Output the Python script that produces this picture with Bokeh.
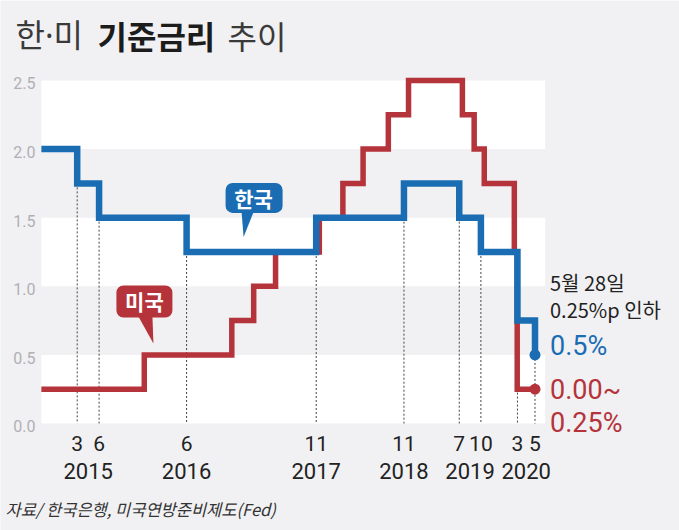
import pandas as pd
from bokeh.plotting import figure
from bokeh.models import Range1d
from bokeh.core.properties import value
from bokeh.embed import file_html
from bokeh.resources import INLINE

# ---------------- data ----------------
start_date = "2014-10-14"          # first drawn date (left edge of bands)
last_date = "2020-05-28"           # latest observation
band_end_date = "2020-07-09"       # right edge of the shaded bands

kr_start_rate = 2.0
kr_dates = ["2015-03-12", "2015-06-11", "2016-06-09", "2017-11-30", "2018-11-30",
            "2019-07-18", "2019-10-16", "2020-03-16", "2020-05-28"]
kr_rates = [1.75, 1.5, 1.25, 1.5, 1.75, 1.5, 1.25, 0.75, 0.5]

us_start_rate = 0.25
us_dates = ["2015-12-16", "2016-12-14", "2017-03-15", "2017-06-14", "2017-12-13",
            "2018-03-21", "2018-06-13", "2018-09-26", "2018-12-19", "2019-07-31",
            "2019-09-18", "2019-10-30", "2020-03-03", "2020-03-15"]
us_rates = [0.5, 0.75, 1.0, 1.25, 1.5, 1.75, 2.0, 2.25, 2.5, 2.25, 2.0, 1.75, 1.25, 0.25]

y_ticks = [0.0, 0.5, 1.0, 1.5, 2.0, 2.5]
y_tick_labels = ["0.0", "0.5", "1.0", "1.5", "2.0", "2.5"]

title_parts = ["한·미", "기준금리", "추이"]
source_text = "자료/ 한국은행, 미국연방준비제도(Fed)"
note_lines = ["5월 28일", "0.25%p 인하"]
kr_name, us_name = "한국", "미국"
kr_note = "0.5%"
us_note = ["0.00~", "0.25%"]

# ---------------- helpers ----------------
BASE = pd.Timestamp("2015-01-01")


def day(s):
    return int((pd.Timestamp(s) - BASE).days)


BG = "#f1f1f3"
BLUE = "#1b6db3"
RED = "#b5333a"
DARK = "#222222"
KR_FONT = value("Noto Sans CJK KR")
MIX_FONT = value("'Noto Sans', 'Noto Sans CJK KR'")
NUM_FONT = value("Roboto")

W, H = 679, 530
x_start, x_end = day("2014-04-27"), day("2022-01-19")
y_start, y_end = -0.78, 3.083
ppd = W / (x_end - x_start)
ppu = H / (y_end - y_start)


def X(px):
    return x_start + px / ppd


def Y(py):
    return y_end - py / ppu


p = figure(width=W, height=H, output_backend="svg", toolbar_location=None, title=None,
           x_range=Range1d(x_start, x_end), y_range=Range1d(y_start, y_end),
           x_axis_location=None, y_axis_location=None,
           min_border_left=0, min_border_right=0, min_border_top=0, min_border_bottom=0,
           background_fill_color=BG, border_fill_color=BG)
p.outline_line_color = None
p.xgrid.visible = False
p.ygrid.visible = False

# white bands: every other interval between y ticks
b_bottom = [y_ticks[i] for i in range(0, len(y_ticks) - 1, 2)]
b_top = [y_ticks[i + 1] for i in range(0, len(y_ticks) - 1, 2)]
p.quad(left=[day(start_date)] * len(b_bottom), right=[day(band_end_date)] * len(b_bottom),
       bottom=b_bottom, top=b_top, fill_color="white", line_color=None)

# y tick labels
p.text([day(start_date)] * len(y_ticks), y_ticks, text=y_tick_labels, x_offset=-6, y_offset=3,
       text_font=NUM_FONT, text_font_size="16px", text_color="#b0b0b3",
       text_align="right", text_baseline="middle")

# dashed guides at Korean rate changes
kr_prev = [kr_start_rate] + kr_rates[:-1]
p.segment(x0=[day(d) for d in kr_dates], x1=[day(d) for d in kr_dates],
          y0=[min(a, b) for a, b in zip(kr_prev, kr_rates)], y1=[y_ticks[0]] * len(kr_dates),
          line_color="#444444", line_width=1, line_dash="2 2")

# month labels and year labels under the guides
p.text([day(d) for d in kr_dates], [y_ticks[0]] * len(kr_dates),
       text=[str(pd.Timestamp(d).month) for d in kr_dates], y_offset=20,
       text_font=NUM_FONT, text_font_size="21px", text_color=DARK,
       text_align="center", text_baseline="middle")
groups = {}
for d in kr_dates:
    groups.setdefault(pd.Timestamp(d).year, []).append(day(d))
yr_x = [sum(v) / len(v) for v in groups.values()]
p.text(yr_x, [y_ticks[0]] * len(yr_x), text=[str(y) for y in groups.keys()], y_offset=48,
       text_font=NUM_FONT, text_font_size="22px", text_color=DARK,
       text_align="center", text_baseline="middle")

# step lines
us_x = [day(start_date)] + [day(d) for d in us_dates] + [day(last_date)]
us_y = [us_start_rate] + us_rates + [us_rates[-1]]
p.step(us_x, us_y, mode="after", line_color=RED, line_width=5.5, line_join="miter")

kr_x = [day(start_date)] + [day(d) for d in kr_dates]
kr_y = [kr_start_rate] + kr_rates
p.step(kr_x, kr_y, mode="after", line_color=BLUE, line_width=6.5, line_join="miter")

p.scatter([day(last_date)], [kr_rates[-1]], size=11, fill_color=BLUE, line_color=None)
p.scatter([day(last_date)], [us_rates[-1]], size=11, fill_color=RED, line_color=None)


# speech bubbles (anchored at the tail tip, offsets in screen pixels)
def bubble(tip_date, tip_rate, box, tail, text_pos, color, text):
    tx, ty = day(tip_date), tip_rate

    def cx(dx):
        return tx + dx / ppd

    def cy(dy):
        return ty - dy / ppu
    l, r, t, b = box
    p.quad(left=[cx(l)], right=[cx(r)], top=[cy(t)], bottom=[cy(b)],
           fill_color=color, line_color=None, border_radius=7)
    p.patch([cx(tail[0][0]), cx(tail[1][0]), tx], [cy(tail[0][1]), cy(tail[1][1]), ty],
            fill_color=color, line_color=None)
    p.text([cx(text_pos[0])], [cy(text_pos[1])], text=[text], text_color="white",
           text_font=KR_FONT, text_font_style="bold",
           text_font_size="21px", text_align="center", text_baseline="middle")


bubble("2017-02-01", 1.36, (-18, 39, -54, -24), ((-2, -25), (10, -25)), (10, -39), BLUE, kr_name)
bubble("2016-01-23", 0.583, (-37, 19, -58, -26), ((-15, -27), (-1, -27)), (-9, -42), RED, us_name)

# notes next to the latest values
lx = day(last_date)
p.text([lx], [kr_rates[-1]], text=[note_lines[0]], x_offset=15, y_offset=-72,
       text_font=KR_FONT, text_font_size="20px", text_color=DARK, text_baseline="middle")
p.text([lx], [kr_rates[-1]], text=[note_lines[1]], x_offset=15, y_offset=-45,
       text_font=KR_FONT, text_font_size="20px", text_color=DARK, text_baseline="middle")
p.text([lx], [kr_rates[-1]], text=[kr_note], x_offset=15, y_offset=-9,
       text_font=NUM_FONT, text_font_size="27px", text_color=BLUE, text_baseline="middle")
p.text([lx], [us_rates[-1]], text=[us_note[0]], x_offset=15, y_offset=1,
       text_font=NUM_FONT, text_font_size="27px", text_color=RED, text_baseline="middle")
p.text([lx], [us_rates[-1]], text=[us_note[1]], x_offset=15, y_offset=34,
       text_font=NUM_FONT, text_font_size="27px", text_color=RED, text_baseline="middle")

# title and source
p.text([X(15)], [Y(34)], text=[title_parts[0]], text_font=MIX_FONT, text_font_size="32px",
       text_color="#3a3a3a", text_baseline="middle")
p.text([X(97)], [Y(34)], text=[title_parts[1]], text_font=KR_FONT, text_font_size="32px",
       text_font_style="bold", text_color="#1c1c1c", text_baseline="middle")
p.text([X(227)], [Y(34)], text=[title_parts[2]], text_font=KR_FONT, text_font_size="32px",
       text_color="#3a3a3a", text_baseline="middle")
p.text([X(5)], [Y(508)], text=[source_text], text_font=KR_FONT, text_font_size="16.5px",
       text_font_style="italic", text_color="#333333", text_baseline="middle")

html = file_html(p, INLINE, title="한·미 기준금리 추이")
html = html.replace("<body>", '<body style="background-color:%s;">' % BG, 1)
with open("out.html", "w") as f:
    f.write(html)
